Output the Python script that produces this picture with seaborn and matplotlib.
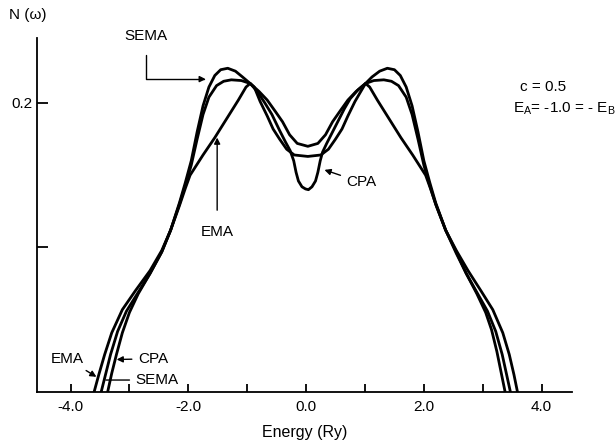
import numpy as np
import pandas as pd
import matplotlib
matplotlib.use('Agg')
import matplotlib.pyplot as plt
import seaborn as sns

# densite d'etats N(w) (c = 0.5, EA = -1.0 = -EB)
cpa_x = [-3.37, -3.30, -3.22, -3.12, -3.00, -2.85, -2.65, -2.45, -2.30, -2.15, -2.05, -1.95,
         -1.85, -1.75, -1.65, -1.55, -1.45, -1.33, -1.20, -1.08, -0.95, -0.83, -0.70, -0.58,
         -0.45, -0.35, -0.27, -0.21, -0.17, -0.13, -0.07, -0.01, 0.04,
         0.10, 0.16, 0.20, 0.24, 0.28, 0.35, 0.45, 0.55, 0.65, 0.75, 0.88, 1.01, 1.12, 1.25,
         1.38, 1.50, 1.60, 1.70, 1.80, 1.90, 2.00, 2.10, 2.20, 2.37, 2.55, 2.72, 2.90, 3.05,
         3.15, 3.24, 3.31, 3.38]
cpa_y = [0.000, 0.013, 0.026, 0.041, 0.055, 0.068, 0.082, 0.097, 0.112, 0.131, 0.145, 0.160,
         0.180, 0.198, 0.211, 0.219, 0.223, 0.224, 0.222, 0.218, 0.2135, 0.208, 0.200, 0.192,
         0.181, 0.173, 0.167, 0.160, 0.152, 0.146, 0.142, 0.1405, 0.140,
         0.142, 0.146, 0.152, 0.160, 0.166, 0.172, 0.180, 0.188, 0.196, 0.203, 0.209, 0.2135,
         0.218, 0.222, 0.224, 0.223, 0.219, 0.211, 0.198, 0.180, 0.160, 0.145, 0.131, 0.112,
         0.096, 0.082, 0.068, 0.055, 0.043, 0.028, 0.014, 0.000]

sema_x = [-3.48, -3.40, -3.32, -3.20, -3.05, -2.85, -2.65, -2.45, -2.30, -2.15, -2.05, -1.95,
          -1.85, -1.75, -1.65, -1.52, -1.40, -1.27, -1.10, -0.95, -0.80, -0.66, -0.52, -0.40,
          -0.28, -0.15, 0.03,
          0.20, 0.33, 0.45, 0.57, 0.71, 0.85, 1.01, 1.15, 1.32, 1.45, 1.57, 1.70, 1.80, 1.90,
          2.00, 2.10, 2.20, 2.37, 2.55, 2.72, 2.90, 3.08, 3.22, 3.33, 3.40, 3.47]
sema_y = [0.000, 0.013, 0.026, 0.042, 0.056, 0.069, 0.082, 0.097, 0.112, 0.130, 0.143, 0.157,
          0.175, 0.192, 0.204, 0.212, 0.215, 0.216, 0.2155, 0.2135, 0.208, 0.202, 0.194, 0.187,
          0.178, 0.172, 0.170,
          0.172, 0.178, 0.187, 0.194, 0.202, 0.208, 0.2135, 0.2155, 0.216, 0.215, 0.212, 0.204,
          0.192, 0.175, 0.157, 0.143, 0.130, 0.112, 0.097, 0.082, 0.069, 0.056, 0.042, 0.026,
          0.013, 0.000]

ema_x = [-3.60, -3.52, -3.42, -3.30, -3.12, -2.90, -2.65, -2.45, -2.30, -2.15, -2.05, -1.97,
         -1.75, -1.55, -1.35, -1.15, -1.02, -0.95, -0.88, -0.78, -0.66, -0.56, -0.45, -0.33,
         -0.20, 0.03,
         0.25, 0.38, 0.50, 0.61, 0.71, 0.83, 0.93, 1.01, 1.08, 1.21, 1.41, 1.61, 1.81, 2.03,
         2.11, 2.21, 2.37, 2.55, 2.75, 2.97, 3.17, 3.34, 3.45, 3.53, 3.59]
ema_y = [0.000, 0.012, 0.026, 0.041, 0.057, 0.070, 0.084, 0.098, 0.112, 0.129, 0.141, 0.150,
         0.164, 0.176, 0.189, 0.202, 0.211, 0.2135, 0.211, 0.201, 0.191, 0.182, 0.175, 0.168,
         0.164, 0.163,
         0.164, 0.168, 0.175, 0.182, 0.191, 0.201, 0.208, 0.2135, 0.211, 0.202, 0.189, 0.176,
         0.164, 0.150, 0.141, 0.129, 0.112, 0.098, 0.084, 0.070, 0.057, 0.041, 0.026, 0.012,
         0.000]

sns.set_style('ticks')
plt.rcParams['font.family'] = ['Liberation Sans', 'DejaVu Sans']
plt.rcParams['mathtext.fontset'] = 'custom'
plt.rcParams['mathtext.rm'] = 'Liberation Sans'
plt.rcParams['mathtext.it'] = 'Liberation Sans:italic'
for k in ['text.color', 'axes.labelcolor', 'xtick.color', 'ytick.color', 'axes.edgecolor']:
    plt.rcParams[k] = 'black'

fig = plt.figure(figsize=(6.16, 4.46), dpi=100)
ax = fig.add_axes([0.060, 0.121, 0.869, 0.794])

for xs, ys in [(cpa_x, cpa_y), (sema_x, sema_y), (ema_x, ema_y)]:
    df = pd.DataFrame({'E': xs, 'N': ys})
    sns.lineplot(data=df, x='E', y='N', sort=False, estimator=None, color='black', lw=2.0, ax=ax)

ax.set_xlim(-4.57, 4.52)
ax.set_ylim(0, 0.245)
sns.despine(ax=ax)
for s in ['left', 'bottom']:
    ax.spines[s].set_linewidth(1.3)

ax.set_xticks([-4, -2, 0, 2, 4], ['-4.0', '-2.0', '0.0', '2.0', '4.0'])
ax.set_xticks([-3, -1, 1, 3], minor=True)
ax.set_yticks([0.2], ['0.2'])
ax.set_yticks([0.1], minor=True)
ax.tick_params(axis='x', which='both', direction='in', length=6, width=1.3, labelsize=11, pad=6)
ax.tick_params(axis='y', which='both', direction='in', length=8, width=1.3, labelsize=11)
ax.set_xlabel('Energy (Ry)', fontsize=11.5, labelpad=8)
ax.set_ylabel('')
ax.text(-4.73, 0.261, 'N (ω)', fontsize=11, ha='center', va='center', clip_on=False,
        family=['Liberation Sans', 'DejaVu Sans'])

# annotations
arr = dict(arrowstyle='-|>', color='black', lw=1.0, mutation_scale=9)
ax.annotate('SEMA', xy=(-1.68, 0.2165), xytext=(-2.72, 0.246), fontsize=11, ha='center', va='center',
            annotation_clip=False,
            arrowprops=dict(arr, connectionstyle='angle,angleA=90,angleB=0,rad=0', shrinkA=6, shrinkB=1))
ax.annotate('EMA', xy=(-1.51, 0.177), xytext=(-1.51, 0.111), fontsize=11, ha='center', va='center',
            arrowprops=dict(arr, shrinkA=8, shrinkB=1))
ax.annotate('CPA', xy=(0.29, 0.154), xytext=(0.94, 0.145), fontsize=11, ha='center', va='center',
            arrowprops=dict(arr, shrinkA=2, shrinkB=1))
ax.annotate('EMA', xy=(-3.54, 0.010), xytext=(-4.06, 0.023), fontsize=11, ha='center', va='center',
            arrowprops=dict(arr, shrinkA=2, shrinkB=1))
ax.annotate('CPA', xy=(-3.24, 0.0225), xytext=(-2.60, 0.023), fontsize=11, ha='center', va='center',
            arrowprops=dict(arr, shrinkA=2, shrinkB=1))
ax.annotate('SEMA', xy=(-3.40, 0.0083), xytext=(-2.53, 0.0083), fontsize=11, ha='center', va='center',
            arrowprops=dict(arrowstyle='-', color='black', lw=1.0, shrinkA=2, shrinkB=0))

ax.text(3.64, 0.211, 'c = 0.5', fontsize=11, ha='left', va='center', clip_on=False)
ax.text(3.52, 0.196, r'E$_\mathrm{A}$= -1.0 = - E$_\mathrm{B}$', fontsize=11, ha='left', va='center',
        clip_on=False)

fig.savefig('out.png', dpi=100)
